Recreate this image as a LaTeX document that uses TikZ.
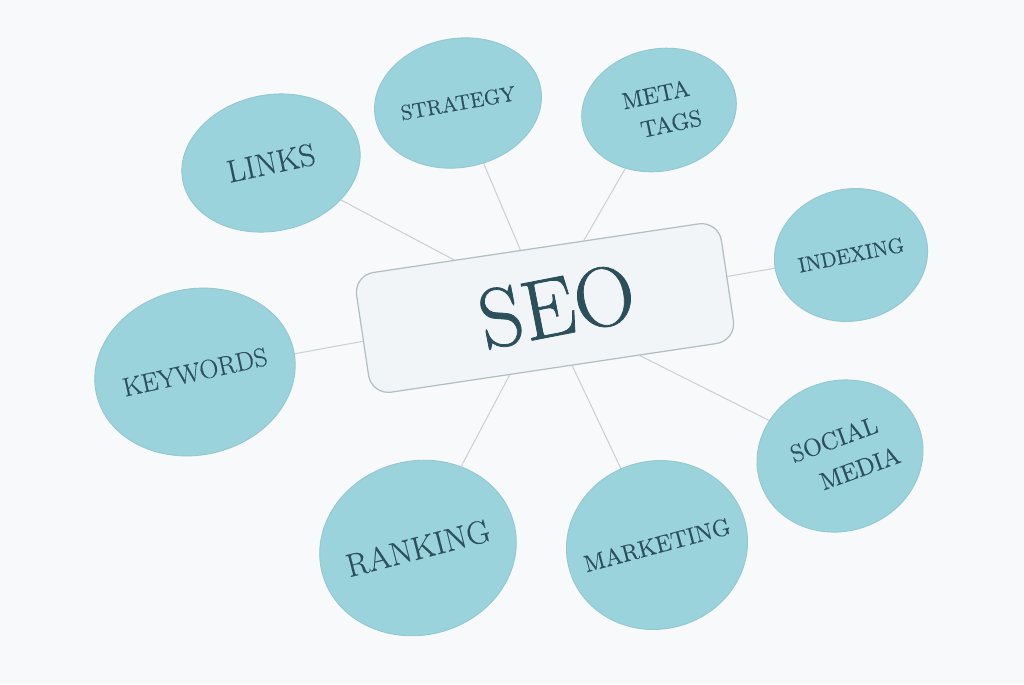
\documentclass[tikz,border=0pt]{standalone}
\usepackage{fontspec}
\usetikzlibrary{shapes.geometric}
\newfontfamily\seofont{Latin Modern Roman}[FakeBold=0.9]
\newfontfamily\lblfont{Latin Modern Roman}[FakeBold=0.35]
\definecolor{bgc}{HTML}{F7F9FA}
\definecolor{teal1}{HTML}{9AD3DC}
\definecolor{tealedge}{HTML}{92C8D0}
\definecolor{ink}{HTML}{2C4F5C}
\definecolor{boxfill}{HTML}{F1F5F7}
\definecolor{boxedge}{HTML}{B3BEC2}
\definecolor{linec}{HTML}{CBD2D5}
\pgfdeclarelayer{bg}
\pgfdeclarelayer{lines}
\pgfsetlayers{bg,lines,main}
\newcommand\zbox[1]{\makebox[0pt]{#1}}
\begin{document}
\begin{tikzpicture}[x=0.02cm,y=-0.02cm,
  bubble/.style={ellipse, fill=teal1, draw=tealedge, line width=0.5pt,
    inner sep=0pt, text=ink, align=center},
  hub/.style={rectangle, rounded corners=0.4cm, fill=boxfill, draw=boxedge,
    line width=0.7pt, minimum width=7.38cm, minimum height=2.42cm, text=ink},
  link/.style={draw=linec, line width=0.6pt}]
\begin{pgfonlayer}{bg}
\useasboundingbox (0,0) rectangle (1024,684);
\fill[bgc] (0,0) rectangle (1024,684);
\end{pgfonlayer}

\node[hub, rotate=8.5, font=\seofont\fontsize{48}{50}\selectfont] (seo) at (545,308)
  {\hspace*{0.48cm}\rotatebox{2.5}{SEO}};

\node[bubble, minimum width=3.6cm, minimum height=2.72cm, rotate=12,
  font=\lblfont\fontsize{18}{20}\selectfont] (links) at (271,163) {\zbox{LINKS}};
\node[bubble, minimum width=3.36cm, minimum height=2.58cm, rotate=10,
  font=\lblfont\fontsize{12}{14}\selectfont] (strategy) at (458,103) {\zbox{STRATEGY}};
\node[bubble, minimum width=3.12cm, minimum height=2.44cm, rotate=12,
  font=\lblfont\fontsize{13.3}{18}\selectfont] (meta) at (659,110)
  {\zbox{META}\\\zbox{\hspace*{0.36cm}TAGS}};
\node[bubble, minimum width=3.08cm, minimum height=2.64cm, rotate=11.5,
  font=\lblfont\fontsize{12}{14}\selectfont] (indexing) at (851,255) {\zbox{INDEXING}};
\node[bubble, minimum width=4.04cm, minimum height=3.32cm, rotate=12.5,
  font=\lblfont\fontsize{15}{18}\selectfont] (keywords) at (195,372) {\zbox{KEYWORDS}};
\node[bubble, minimum width=3.36cm, minimum height=3.0cm, rotate=20,
  font=\lblfont\fontsize{14}{20.5}\selectfont] (social) at (840,456)
  {\zbox{SOCIAL}\\\zbox{\hspace*{0.58cm}MEDIA}};
\node[bubble, minimum width=3.96cm, minimum height=3.48cm, rotate=14.5,
  font=\lblfont\fontsize{18.5}{22}\selectfont] (ranking) at (418,548) {\zbox{RANKING}};
\node[bubble, minimum width=3.64cm, minimum height=3.36cm, rotate=15,
  font=\lblfont\fontsize{13.5}{16}\selectfont] (marketing) at (657,545) {\zbox{MARKETING}};

\begin{pgfonlayer}{lines}
\foreach \n in {links,strategy,meta,indexing,keywords,social,ranking,marketing}
  \draw[link] (\n) -- (seo);
\end{pgfonlayer}
\end{tikzpicture}
\end{document}
